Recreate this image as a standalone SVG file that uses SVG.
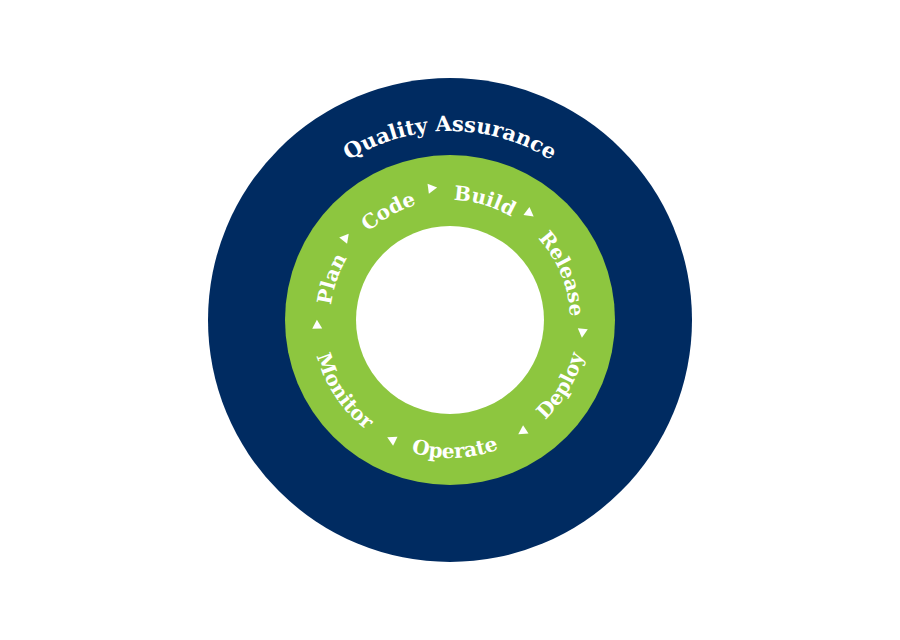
<svg xmlns="http://www.w3.org/2000/svg" width="900" height="640" viewBox="0 0 900 640">
<style>
.t{font-family:"DejaVu Serif","Liberation Serif",serif;font-weight:bold;fill:#fff;text-anchor:middle}
.r{font-size:20px}
.q{font-size:21px}
.a{fill:#fff}
</style>
<defs>
<path id="cw" d="M330,320 A120,120 0 1,1 570,320 A120,120 0 1,1 330,320"/>
<path id="ccw" d="M312,320 A138,138 0 1,0 588,320 A138,138 0 1,0 312,320"/>
<path id="qa" d="M261,320 A189,189 0 1,1 639,320 A189,189 0 1,1 261,320"/>
<polygon id="tri" points="446,182 446,192 455,187"/>
</defs>
<rect width="900" height="640" fill="#fff"/>
<g id="outer"><circle cx="450" cy="320" r="242" fill="#002b61"/>
<text class="t q"><textPath href="#qa" startOffset="25%">Quality Assurance</textPath></text></g>
<g id="ring"><circle cx="450" cy="320" r="165" fill="#8dc63f"/><circle cx="450" cy="320" r="94" fill="#fff"/></g>
<g id="plan"><text class="t r"><textPath href="#cw" startOffset="5.3%">Plan</textPath></text></g>
<g id="code"><text class="t r"><textPath href="#cw" startOffset="16.8%">Code</textPath></text></g>
<g id="build"><text class="t r"><textPath href="#cw" startOffset="29.5%">Build</textPath></text></g>
<g id="release"><text class="t r"><textPath href="#cw" startOffset="43.8%">Release</textPath></text></g>
<g id="monitor"><text class="t r"><textPath href="#ccw" startOffset="9.4%">Monitor</textPath></text></g>
<g id="operate"><text class="t r"><textPath href="#ccw" startOffset="25.6%">Operate</textPath></text></g>
<g id="deploy"><text class="t r"><textPath href="#ccw" startOffset="41.5%">Deploy</textPath></text></g>
<g id="connectors" class="a">
<use href="#tri" transform="rotate(-51.7 450 320)"/>
<use href="#tri" transform="rotate(-7.7 450 320)"/>
<use href="#tri" transform="rotate(36.8 450 320)"/>
<use href="#tri" transform="rotate(95.5 450 320)"/>
<use href="#tri" transform="rotate(147 450 320)"/>
<use href="#tri" transform="rotate(206 450 320)"/>
<use href="#tri" transform="rotate(268 450 320)"/>
</g>
</svg>
